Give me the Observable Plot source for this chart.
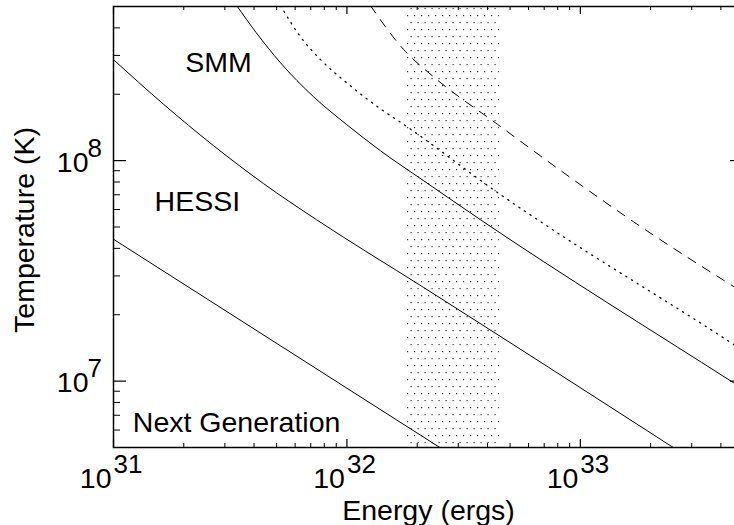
<!DOCTYPE html>
<html><head><meta charset="utf-8">
<script src="https://cdn.jsdelivr.net/npm/d3@7"></script>
<script src="https://cdn.jsdelivr.net/npm/@observablehq/plot@0.6"></script>
<style>
html,body{margin:0;padding:0;overflow:hidden;background:#fff;}
#chart svg{max-width:none !important;}
</style></head><body><div id="chart"></div>
<script>
// Energy (ergs) and temperature (K)
const nextGenE = [1e31, 2.5e32];
const nextGenT = [4.4e7, 5.0e6];
const hessiE = [1e31, 1.64e31, 2.68e31, 4.39e31, 7.4e31, 2.13e32, 2.5e33];
const hessiT = [2.87e8, 1.80e8, 1.17e8, 7.87e7, 5.4e7, 2.66e7, 5.0e6];
const smmE = [3.37e31, 4.09e31, 5.19e31, 7.19e31, 9.95e31, 1.39e32, 2.13e32, 3.73e32, 4.52e33, 5e33];
const smmT = [5.05e8, 3.80e8, 2.78e8, 1.95e8, 1.46e8, 1.11e8, 8.11e7, 5.4e7, 9.85e6, 9.2e6];
const dottedE = [5.19e31, 6.32e31, 7.71e31, 9.95e31, 1.39e32, 1.80e32, 4.54e32, 6.55e32, 4.52e33, 5e33];
const dottedT = [5.05e8, 3.65e8, 2.87e8, 2.26e8, 1.72e8, 1.43e8, 7.02e7, 5.4e7, 1.47e7, 1.37e7];
const dashedE = [1.26e32, 1.75e32, 2.35e32, 4.42e32, 9.06e32, 1.69e33, 4.26e33, 5e33];
const dashedT = [5.05e8, 3.19e8, 2.40e8, 1.46e8, 8.38e7, 5.28e7, 2.80e7, 2.52e7];

// shaded energy range
const bandE = [[1.8e32, 4.5e32]];

// labels
const labelText = ["SMM", "HESSI", "Next Generation"];
const labelE = [2.03e31, 1.5e31, 1.21e31];
const labelT = [2.51e8, 5.88e7, 5.9e6];

// ticks
const xMajor = [1e31, 1e32, 1e33];
const xMinor = [2e31,3e31,4e31,5e31,6e31,7e31,8e31,9e31,2e32,3e32,4e32,5e32,6e32,7e32,8e32,9e32,2e33,3e33,4e33];
const yMajor = [1e7, 1e8];
const yMinor = [6e6,7e6,8e6,9e6,2e7,3e7,4e7,5e7,6e7,7e7,8e7,9e7,2e8,3e8,4e8];

const rows = (E, T) => E.map((e, i) => ({E: e, T: T[i]}));
const labels = labelText.map((t, i) => ({text: t, E: labelE[i], T: labelT[i]}));

const W = 760, H = 525, ML = 113, MR = 17, MT = 6, MB = 78;
const FH = H - MT - MB, FW = W - ML - MR;
const FONT = "Liberation Sans, Arial, Helvetica, sans-serif";
const lineOpts = {x: "E", y: "T", curve: "monotone-x", stroke: "black", strokeWidth: 1, clip: true};

const svg = Plot.plot({
  width: W, height: H,
  marginLeft: ML, marginRight: MR, marginTop: MT, marginBottom: MB,
  style: {fontFamily: FONT, background: "white", color: "black"},
  x: {type: "log", domain: [1e31, 5e33], axis: null},
  y: {type: "log", domain: [5e6, 5e8], axis: null},
  marks: [
    Plot.rect(bandE, {x1: d => d[0], x2: d => d[1], fill: "url(#dots)"}),
    Plot.line(rows(nextGenE, nextGenT), lineOpts),
    Plot.line(rows(hessiE, hessiT), lineOpts),
    Plot.line(rows(smmE, smmT), lineOpts),
    Plot.line(rows(dottedE, dottedT), {...lineOpts, strokeDasharray: "1.2,5.5", strokeWidth: 1.3}),
    Plot.line(rows(dashedE, dashedT), {...lineOpts, strokeDasharray: "9,8"}),
    Plot.text(labels, {x: "E", y: "T", text: "text", textAnchor: "start", lineAnchor: "bottom", fontSize: 28.5, fill: "black"}),
    // ticks
    Plot.tickX(xMajor, {x: d => d, insetTop: FH - 8, stroke: "black", strokeWidth: 1.2}),
    Plot.tickX(xMinor, {x: d => d, insetTop: FH - 4, stroke: "black", strokeWidth: 1}),
    Plot.tickX(xMajor, {x: d => d, insetBottom: FH - 8, stroke: "black", strokeWidth: 1.2}),
    Plot.tickX(xMinor, {x: d => d, insetBottom: FH - 4, stroke: "black", strokeWidth: 1}),
    Plot.tickY(yMajor, {y: d => d, insetRight: FW - 13, stroke: "black", strokeWidth: 1.2}),
    Plot.tickY(yMinor, {y: d => d, insetRight: FW - 7, stroke: "black", strokeWidth: 1}),
    Plot.tickY(yMajor, {y: d => d, insetLeft: FW - 13, stroke: "black", strokeWidth: 1.2}),
    Plot.tickY(yMinor, {y: d => d, insetLeft: FW - 7, stroke: "black", strokeWidth: 1}),
    Plot.frame({stroke: "black", strokeWidth: 1.5}),
    // x tick labels
    Plot.text(xMajor, {x: d => d, frameAnchor: "bottom", text: () => "10", textAnchor: "end", lineAnchor: "bottom", dx: -2, dy: 40, fontSize: 28.5, fill: "black"}),
    Plot.text(xMajor, {x: d => d, frameAnchor: "bottom", text: d => String(Math.round(Math.log10(d))), textAnchor: "start", lineAnchor: "bottom", dx: 0, dy: 25, fontSize: 26, fill: "black"}),
    // y tick labels
    Plot.text(yMajor, {y: d => d, frameAnchor: "left", text: () => "10", textAnchor: "end", lineAnchor: "bottom", dx: -25, dy: 11, fontSize: 28.5, fill: "black"}),
    Plot.text(yMajor, {y: d => d, frameAnchor: "left", text: d => String(Math.round(Math.log10(d))), textAnchor: "start", lineAnchor: "bottom", dx: -26, dy: -4, fontSize: 26, fill: "black"}),
    // axis titles
    Plot.text(["Energy (ergs)"], {frameAnchor: "bottom", text: d => d, textAnchor: "middle", lineAnchor: "bottom", dy: 72, fontSize: 28.5, fill: "black"}),
    Plot.text(["Temperature (K)"], {frameAnchor: "left", text: d => d, textAnchor: "middle", lineAnchor: "bottom", rotate: -90, dx: -80, dy: 3, fontSize: 28.5, fill: "black"})
  ]
});

svg.style.maxWidth = "none";
svg.style.width = W + "px";
svg.style.height = H + "px";
const defs = d3.select(svg).insert("defs", ":first-child");
const pat = defs.append("pattern").attr("id", "dots").attr("patternUnits", "userSpaceOnUse")
  .attr("width", 7).attr("height", 14);
pat.append("rect").attr("x", 1).attr("y", 1).attr("width", 1.2).attr("height", 1.2).attr("fill", "#333");
pat.append("rect").attr("x", 4.5).attr("y", 8).attr("width", 1.2).attr("height", 1.2).attr("fill", "#333");
document.getElementById("chart").appendChild(svg);
</script></body></html>
